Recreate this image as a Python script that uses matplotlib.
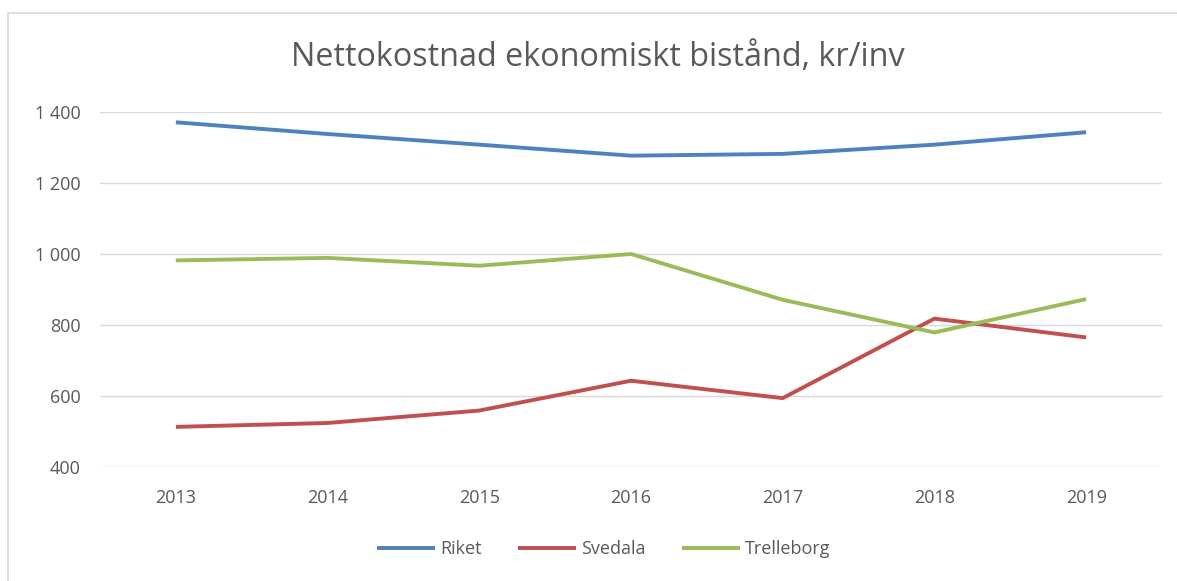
import matplotlib.pyplot as plt
import matplotlib.patches as patches
import numpy as np

years = ['2013', '2014', '2015', '2016', '2017', '2018', '2019']
riket = [1371, 1338, 1308, 1277, 1282, 1308, 1343]
svedala = [513, 524, 559, 643, 594, 818, 765]
trelleborg = [982, 989, 967, 1000, 871, 779, 873]

y_ticks = [400, 600, 800, 1000, 1200, 1400]
y_labels = ['400', '600', '800', '1 000', '1 200', '1 400']

txt = '#595959'
plt.rcParams['font.family'] = ['Open Sans', 'DejaVu Sans']

fig = plt.figure(figsize=(11.77, 5.81), dpi=100)
ax = fig.add_axes([100/1177, 1-467/581, 1062/1177, 355/581])

x = np.arange(len(years))
ax.plot(x, riket, color='#4F81BD', lw=2.8, label='Riket', solid_capstyle='butt')
ax.plot(x, svedala, color='#C0504D', lw=2.8, label='Svedala', solid_capstyle='butt')
ax.plot(x, trelleborg, color='#9BBB59', lw=2.8, label='Trelleborg', solid_capstyle='butt')

ax.set_xlim(-0.5, len(years) - 0.5)
ax.set_ylim(400, 1400)
ax.set_xticks(x)
ax.set_xticklabels(years)
ax.set_yticks(y_ticks)
ax.set_yticklabels(y_labels)
ax.tick_params(length=0, labelsize=13, labelcolor=txt)
ax.tick_params(axis='y', pad=14)
ax.tick_params(axis='x', pad=16)
ax.grid(axis='y', color='#d9d9d9', lw=1)
ax.set_axisbelow(True)
for s in ax.spines.values():
    s.set_visible(False)

fig.text(0.508, 1-58/581, 'Nettokostnad ekonomiskt bistånd, kr/inv',
         ha='center', va='center', fontsize=23.3, color=txt)

fig.legend(loc='center', bbox_to_anchor=(0.513, 1-549/581), ncol=3,
           frameon=False, fontsize=13, labelcolor=txt, handlelength=3.2,
           handletextpad=0.3, columnspacing=2.0)

fig.add_artist(patches.Rectangle((8/1177, -0.1), 2, 1.1-13/581,
                                 transform=fig.transFigure, fill=False,
                                 edgecolor='#d9d9d9', lw=1.2))

fig.savefig('out.png', dpi=100)
